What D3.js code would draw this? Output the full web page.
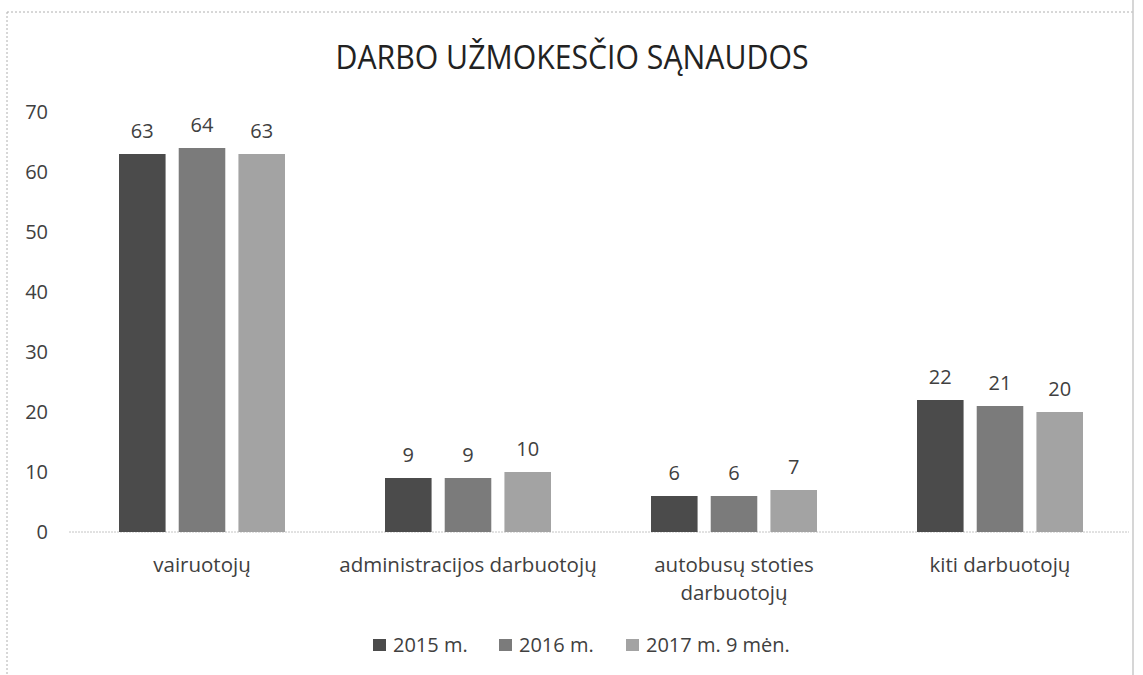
<!DOCTYPE html>
<html>
<head>
<meta charset="utf-8">
<script src="https://cdn.jsdelivr.net/npm/d3@7"></script>
<style>
  body { margin: 0; background: #fff; }
  text { font-family: "Open Sans", "Noto Sans", sans-serif; fill: #404040; }
</style>
</head>
<body>
<svg id="chart" width="1143" height="675"></svg>
<script>
// data
const categories = [["vairuotojų"], ["administracijos darbuotojų"], ["autobusų stoties", "darbuotojų"], ["kiti darbuotojų"]];
const seriesNames = ["2015 m.", "2016 m.", "2017 m. 9 mėn."];
const values2015 = [63, 9, 6, 22];
const values2016 = [64, 9, 6, 21];
const values2017 = [63, 10, 7, 20];
const yTicks = [0, 10, 20, 30, 40, 50, 60, 70];

const allValues = [values2015, values2016, values2017];
const colors = ["#4b4b4b", "#7b7b7b", "#a3a3a3"];

var svg = d3.select("#chart"),
  width = +svg.attr("width"),
  height = +svg.attr("height");

// frame of the scanned chart area
svg.append("line").attr("x1", 7).attr("x2", 7).attr("y1", 12).attr("y2", height)
  .attr("stroke", "#b0b0b0").style("stroke-dasharray", "2,2");
svg.append("line").attr("x1", 7).attr("x2", 1133).attr("y1", 12).attr("y2", 12)
  .attr("stroke", "#b0b0b0").style("stroke-dasharray", "2,2");
svg.append("line").attr("x1", 1133).attr("x2", 1133).attr("y1", 0).attr("y2", height)
  .attr("stroke", "#c8c8c8").attr("stroke-width", 1.5);

// title
svg.append("text")
  .attr("x", 572).attr("y", 69)
  .attr("text-anchor", "middle")
  .attr("textLength", 473)
  .attr("lengthAdjust", "spacingAndGlyphs")
  .style("font-size", "32px")
  .style("fill", "#222")
  .text("DARBO UŽMOKESČIO SĄNAUDOS");

var plotLeft = 69, plotRight = 1133, y0 = 532, y70 = 112;

var x = d3.scaleBand()
  .domain(d3.range(categories.length))
  .range([plotLeft, plotRight]);

var xInner = d3.scaleBand()
  .domain(d3.range(seriesNames.length))
  .range([50, x.bandwidth() - 50])
  .paddingInner(0.22);

var y = d3.scaleLinear()
  .domain([0, 70])
  .range([y0, y70]);

// y axis labels
svg.append("g")
  .selectAll("text")
  .data(yTicks)
  .enter()
  .append("text")
    .attr("x", 48)
    .attr("y", function(d){ return y(d) })
    .attr("dy", "0.35em")
    .attr("text-anchor", "end")
    .style("font-size", "20px")
    .text(function(d){ return d });

// baseline
svg.append("line")
  .attr("x1", plotLeft).attr("x2", plotRight - 4)
  .attr("y1", y(0)).attr("y2", y(0))
  .attr("stroke", "#c4c4c4")
  .style("stroke-dasharray", "2,1");

// bars and labels
var groups = svg.append("g")
  .selectAll("g")
  .data(seriesNames)
  .enter()
  .append("g");

groups.each(function(name, s){
  var g = d3.select(this);
  g.selectAll("rect")
    .data(allValues[s])
    .enter()
    .append("rect")
      .attr("x", function(d, i){ return x(i) + xInner(s) })
      .attr("y", function(d){ return y(d) })
      .attr("width", xInner.bandwidth())
      .attr("height", function(d){ return y(0) - y(d) })
      .attr("fill", colors[s]);
  g.selectAll("text")
    .data(allValues[s])
    .enter()
    .append("text")
      .attr("x", function(d, i){ return x(i) + xInner(s) + xInner.bandwidth() / 2 })
      .attr("y", function(d){ return y(d) - 16 })
      .attr("text-anchor", "middle")
      .style("font-size", "20px")
      .text(function(d){ return d });
});

// category labels
svg.append("g")
  .selectAll("text")
  .data(categories)
  .enter()
  .append("text")
    .attr("x", function(d, i){ return x(i) + x.bandwidth() / 2 })
    .attr("y", 572)
    .attr("text-anchor", "middle")
    .style("font-size", "20.5px")
    .each(function(lines){
      var t = d3.select(this);
      lines.forEach(function(l, k){
        t.append("tspan")
          .attr("x", t.attr("x"))
          .attr("dy", k === 0 ? 0 : 28)
          .text(l);
      });
    });

// legend
var legendX = [373, 499, 626];
var legend = svg.append("g")
  .selectAll("g")
  .data(seriesNames)
  .enter()
  .append("g")
    .attr("transform", function(d, i){ return "translate(" + legendX[i] + ",645)" });
legend.append("rect")
  .attr("x", 0).attr("y", -6)
  .attr("width", 13).attr("height", 12)
  .attr("fill", function(d, i){ return colors[i] });
legend.append("text")
  .attr("x", 20).attr("y", 0)
  .attr("dy", "0.35em")
  .style("font-size", "20px")
  .text(function(d){ return d });
</script>
</body>
</html>
